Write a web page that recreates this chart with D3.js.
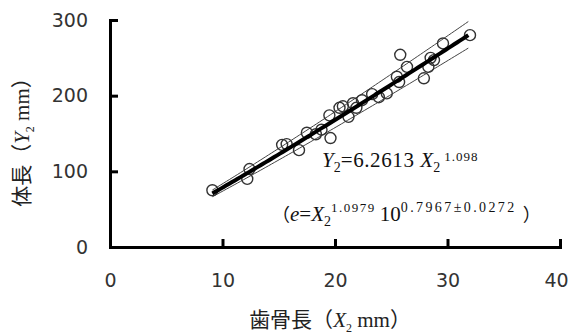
<!DOCTYPE html>
<html>
<head>
<meta charset="utf-8">
<script src="https://cdn.jsdelivr.net/npm/d3@7"></script>
<style>
  body { margin: 0; background: #fff; }
  .tick text { font-family: 'DejaVu Sans', Verdana, sans-serif; font-size: 19px; fill: #333; }
  .serif { font-family: 'Liberation Serif', 'Times New Roman', serif; }
  .cjk { font-family: 'Noto Sans CJK JP', sans-serif; }
</style>
</head>
<body>
<div id="chart"></div>
<script>
// scatter: tooth bone length X2 (mm) vs body length Y2 (mm)
const boneLen = [9.1, 12.4, 12.2, 15.3, 15.7, 16.8, 17.5, 18.3, 18.8, 19.6, 19.5, 20.4, 20.7, 21.2,
                 21.6, 21.9, 22.4, 23.3, 23.9, 24.6, 25.5, 25.8, 26.4, 25.7, 27.9, 28.3, 28.8, 28.5, 29.6, 32.0]
const bodyLen = [75, 103, 90, 135, 136, 128, 151, 149, 155, 144, 174, 184, 186, 172,
                 190, 184, 194, 202, 198, 203, 225, 254, 238, 218, 223, 238, 247, 250, 269, 280]

// fitted curve Y = a X^b, band X^b2 10^(c +- d)
const FIT_A = 6.2613, FIT_B = 1.098
const BAND_B = 1.0979, BAND_C = 0.7967, BAND_D = 0.0272

const xTicks = [0, 10, 20, 30, 40]
const yTicks = [0, 100, 200, 300]

const width = 571, height = 334
const margin = { top: 20, right: 11, bottom: 87, left: 110 }

let svg = d3.select('#chart').append('svg')
  .attr('width', width)
  .attr('height', height)

let x = d3.scaleLinear().domain([0, 40]).range([margin.left, width - margin.right])
let y = d3.scaleLinear().domain([0, 300]).range([height - margin.bottom, margin.top])

// axes
let xAxis = svg.append('g')
  .attr('transform', 'translate(0,' + y(0) + ')')
  .call(d3.axisBottom(x).tickValues(xTicks).tickSize(-8).tickSizeOuter(0).tickPadding(27))
svg.append('g')
  .attr('transform', 'translate(' + x(0) + ',0)')
  .call(d3.axisLeft(y).tickValues(yTicks).tickSize(-8).tickSizeOuter(0).tickPadding(22))

// last label sits on the right edge; pull it in a little
xAxis.selectAll('.tick text').filter((d) => d === 40).attr('dx', -4)

svg.selectAll('.domain, .tick line')
  .attr('stroke', '#000')
  .attr('stroke-width', 3)
svg.selectAll('.domain').attr('stroke-linecap', 'square')

// fit lines
let xMin = d3.min(boneLen), xMax = d3.max(boneLen)
let xs = d3.range(xMin, xMax + 0.01, 0.25)
let line = d3.line().x((d) => x(d[0])).y((d) => y(d[1]))

let bands = [BAND_C + BAND_D, BAND_C - BAND_D]
bands.forEach((c) => {
  svg.append('path')
    .datum(xs.map((v) => [v, Math.pow(v, BAND_B) * Math.pow(10, c)]))
    .attr('d', line)
    .attr('fill', 'none')
    .attr('stroke', '#444')
    .attr('stroke-width', 1)
})

// points
svg.append('g').selectAll('circle')
  .data(d3.zip(boneLen, bodyLen))
  .enter().append('circle')
    .attr('cx', (d) => x(d[0]))
    .attr('cy', (d) => y(d[1]))
    .attr('r', 5.5)
    .attr('fill', 'none')
    .attr('stroke', '#333')
    .attr('stroke-width', 1.4)

svg.append('path')
  .datum(xs.map((v) => [v, FIT_A * Math.pow(v, FIT_B)]))
  .attr('d', line)
  .attr('fill', 'none')
  .attr('stroke', '#000')
  .attr('stroke-width', 4)

// equation text
let eq1 = svg.append('text').attr('class', 'serif').attr('x', 322).attr('y', 167)
  .attr('font-size', 21).attr('fill', '#111')
eq1.append('tspan').attr('font-style', 'italic').text('Y')
eq1.append('tspan').attr('dy', 5).attr('font-size', 14).text('2')
eq1.append('tspan').attr('dy', -5).attr('letter-spacing', 0.6).text('=' + FIT_A + ' ')
eq1.append('tspan').attr('font-style', 'italic').text('X')
eq1.append('tspan').attr('dy', 5).attr('font-size', 14).text('2')
eq1.append('tspan').attr('dy', -11).attr('dx', 4).attr('font-size', 13).attr('letter-spacing', 1).text(FIT_B.toFixed(3))

let eq2 = svg.append('text').attr('class', 'serif').attr('x', 272).attr('y', 221)
  .attr('font-size', 21).attr('fill', '#111')
eq2.append('tspan').attr('class', 'cjk').attr('font-size', 18).text('（')
eq2.append('tspan').attr('font-style', 'italic').text('e')
eq2.append('tspan').text('=')
eq2.append('tspan').attr('font-style', 'italic').text('X')
eq2.append('tspan').attr('dy', 5).attr('font-size', 14).text('2')
eq2.append('tspan').attr('dy', -14).attr('font-size', 13).attr('letter-spacing', 1.5).text(BAND_B.toFixed(4))
eq2.append('tspan').attr('dy', 9).attr('dx', 4).text('10')
eq2.append('tspan').attr('dy', -9).attr('font-size', 14).attr('letter-spacing', 2.4).text(BAND_C.toFixed(4) + '±' + BAND_D.toFixed(4))
eq2.append('tspan').attr('dy', 9).attr('dx', 6).attr('class', 'cjk').attr('font-size', 18).text('）')

// axis titles
let xt = svg.append('text').attr('x', 330).attr('y', 327).attr('text-anchor', 'middle')
  .attr('font-size', 21).attr('fill', '#222')
xt.append('tspan').attr('class', 'cjk').text('歯骨長（')
xt.append('tspan').attr('class', 'serif').attr('font-style', 'italic').text('X')
xt.append('tspan').attr('class', 'serif').attr('dy', 5).attr('font-size', 12).text('2')
xt.append('tspan').attr('class', 'serif').attr('dy', -5).text(' mm')
xt.append('tspan').attr('class', 'cjk').text('）')

let yt = svg.append('text').attr('transform', 'translate(29,137) rotate(-90)')
  .attr('text-anchor', 'middle').attr('font-size', 21).attr('fill', '#222')
yt.append('tspan').attr('class', 'cjk').text('体長（')
yt.append('tspan').attr('class', 'serif').attr('font-style', 'italic').text('Y')
yt.append('tspan').attr('class', 'serif').attr('dy', 5).attr('font-size', 12).text('2')
yt.append('tspan').attr('class', 'serif').attr('dy', -5).text(' mm')
yt.append('tspan').attr('class', 'cjk').text('）')
</script>
</body>
</html>
